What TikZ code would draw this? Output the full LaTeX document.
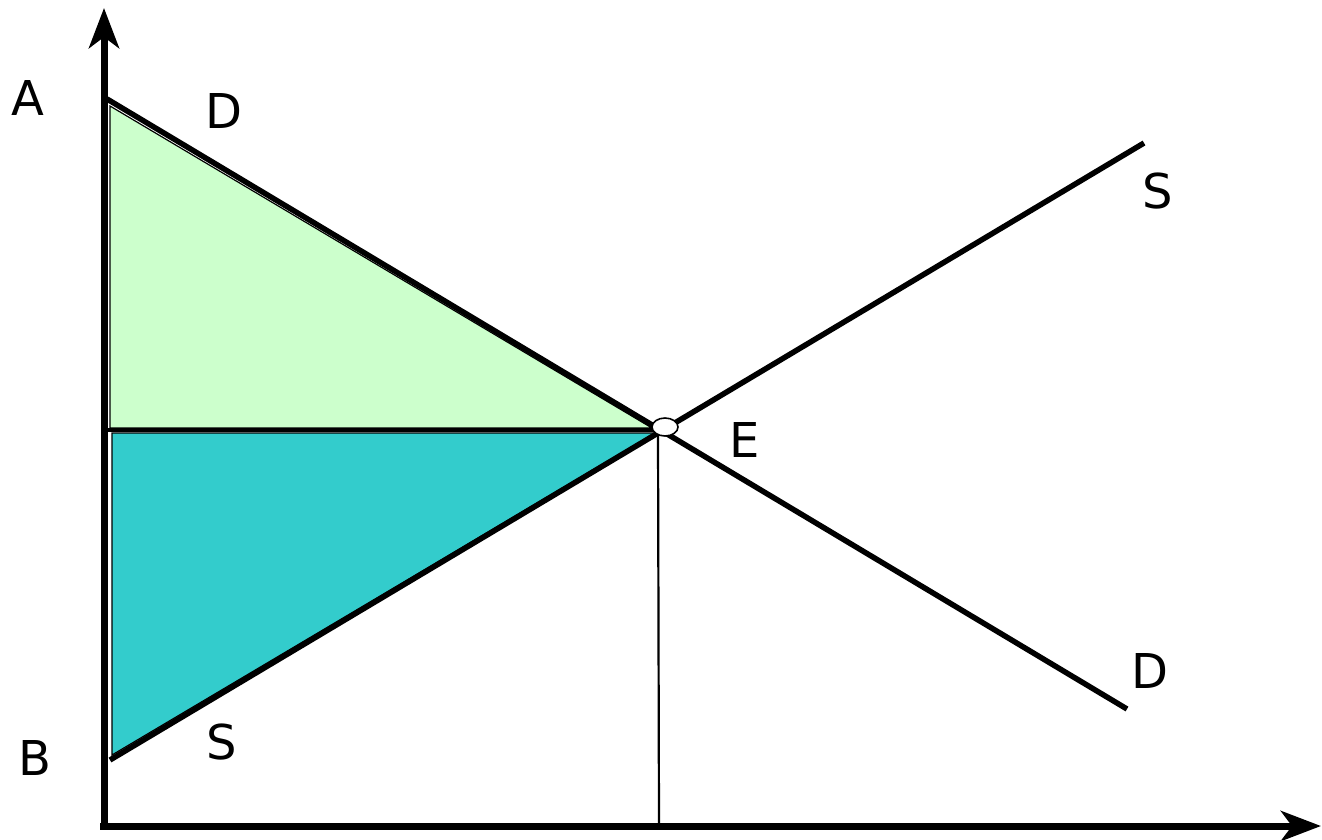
\documentclass[tikz,border=0pt]{standalone}
\usepackage{fontspec}
\setmainfont{DejaVu Sans}
\usetikzlibrary{arrows.meta,shapes.geometric}
\begin{document}
\begin{tikzpicture}[x=1pt,y=-1pt,
  curve/.style={line width=5.5pt},
  axis/.style={line width=7pt,-{Stealth[length=40pt,width=30pt,inset=11pt]}},
  lbl/.style={font=\fontsize{48}{48}\selectfont,inner sep=0pt}]
\useasboundingbox (0,0) rectangle (1322,839);
% areas
\fill[fill={rgb,255:red,204;green,255;blue,204}] (110,106) -- (110,428) -- (652,428) -- cycle;
\draw[line width=1.2pt] (110,106) -- (110,428) -- (652,428) -- cycle;
\fill[fill={rgb,255:red,51;green,204;blue,204}] (112,433) -- (112,755) -- (655,433) -- cycle;
\draw[line width=1.2pt] (112,433) -- (112,755) -- (655,433) -- cycle;
\draw[line width=3.5pt] (107,430) -- (660,430);
% coordinates
\coordinate (dtop) at (107,99);
\coordinate (dbot) at (1127,709);
\coordinate (sbot) at (110,760);
\coordinate (stop) at (1144,143);
\coordinate (origin) at (104,829);
\coordinate (ytip) at (104,8);
\coordinate (xtip) at (1321,826);
\coordinate (xstart) at (100,826);
\coordinate (qfoot) at (659,826);
% curves
\draw[curve] (dtop) -- (dbot);
\draw[curve] (sbot) -- (stop);
% axes
\draw[axis] (origin) -- (ytip);
\draw[axis] (xstart) -- (xtip);
% drop line
\draw[line width=2.2pt] (658,433) -- (qfoot);
% equilibrium
\node[draw,fill=white,ellipse,line width=1.6pt,minimum width=26pt,minimum height=18pt,inner sep=0pt] (E) at (665,427) {};
% labels
\node[lbl] (lA) at (28,98) {A};
\node[lbl] (lD1) at (224,111) {D};
\node[lbl] (lS1) at (1158,191) {S};
\node[lbl] (lE) at (745,440) {E};
\node[lbl] (lD2) at (1150,671) {D};
\node[lbl] (lB) at (35,758) {B};
\node[lbl] (lS2) at (222,742) {S};
\end{tikzpicture}
\end{document}
